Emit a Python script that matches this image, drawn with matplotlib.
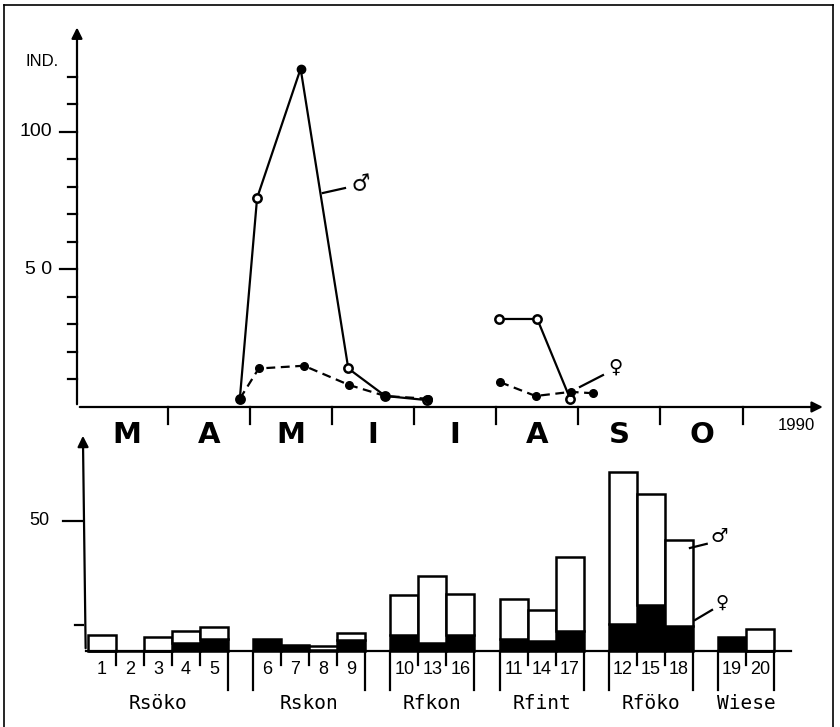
import numpy as np
import matplotlib
matplotlib.use('Agg')
import matplotlib.pyplot as plt
from matplotlib.lines import Line2D

# ------------------------------------------------------------
# Seasonal activity 1990 (upper panel), x = months after 1 March
# ------------------------------------------------------------
months = ['M', 'A', 'M', 'I', 'I', 'A', 'S', 'O']
year_label = '1990'

male_x = [1.88, 2.09, 2.62, 3.20, 3.65, 4.16, np.nan, 5.03, 5.50, 5.90]
male_n = [3, 76, 123, 14, 4, 2.5, np.nan, 32, 32, 3]
male_filled = [False, False, True, False, False, False, False, False, False, False]

female_x = [1.88, 2.11, 2.66, 3.21, 3.65, 4.17, np.nan, 5.05, 5.48, 5.91, 6.18]
female_n = [3, 14, 15, 8, 4, 3, np.nan, 9, 4, 5.5, 5]

# ------------------------------------------------------------
# Totals per site (lower panel)
# ------------------------------------------------------------
groups = ['Rsöko', 'Rskon', 'Rfkon', 'Rfint', 'Rföko', 'Wiese']
group_sites = [['1', '2', '3', '4', '5'],
               ['6', '7', '8', '9'],
               ['10', '13', '16'],
               ['11', '14', '17'],
               ['12', '15', '18'],
               ['19', '20']]
females = [0, 0, 0, 3.0, 4.6, 4.8, 2.5, 0.5, 4.2, 6.0,
           3.0, 6.0, 4.6, 3.8, 7.7, 10.4, 17.7, 9.6, 5.4, 0]
males = [6.2, 0, 5.5, 4.7, 4.6, 0, 0, 1.5, 2.8, 15.5,
         26.0, 16.0, 15.4, 12.0, 28.3, 58.4, 42.7, 33.1, 0, 8.5]

W, H = 840, 727
fig = plt.figure(figsize=(W / 100, H / 100), dpi=100)
fig.patch.set_facecolor('white')
plt.rcParams['font.family'] = ['Liberation Sans', 'DejaVu Sans']
LW = 1.6

# outer frame
for xs, ys in [([4, 4], [5, 727]), ([4, 833], [5, 5]), ([833, 833], [5, 727])]:
    fig.add_artist(Line2D([x / W for x in xs], [1 - y / H for y in ys],
                          color='k', lw=1.2, transform=fig.transFigure))

# ---------------- upper panel ----------------
ax1 = fig.add_axes([77 / W, 1 - 407 / H, (W - 77) / W, (407 - 20) / H])
ax1.set_xlim(-0.102, 9.185)
ax1.set_ylim(0, 140.7)
ax1.axis('off')
x0 = -0.102

ax1.annotate('', xy=(x0, 139), xytext=(x0, 0),
             arrowprops=dict(arrowstyle='-|>', lw=LW, color='k', mutation_scale=16),
             annotation_clip=False)
ax1.annotate('', xy=(9.01, 0), xytext=(x0, 0),
             arrowprops=dict(arrowstyle='-|>', lw=LW, color='k', mutation_scale=16),
             annotation_clip=False)

for v in range(10, 130, 10):
    dx = 0.21 if v in (50, 100) else 0.11
    ax1.plot([x0 - dx, x0], [v, v], color='k', lw=LW, clip_on=False)
ax1.text(-0.41, 100, '100', ha='right', va='center', fontsize=14)
ax1.text(-0.41, 50, '5 0', ha='right', va='center', fontsize=14)
ax1.text(-0.33, 125.5, 'IND.', ha='right', va='center', fontsize=12)

for k in range(1, len(months) + 1):
    ax1.plot([k, k], [0, -6.2], color='k', lw=LW, clip_on=False)
for k, m in enumerate(months):
    ax1.text(k + 0.5, -10.2, m, ha='center', va='center', fontsize=21,
             fontweight='bold', family='DejaVu Sans')
ax1.text(8.66, -6.8, year_label, ha='center', va='center', fontsize=12)

# males: solid line, open circles (peak filled)
ax1.plot(male_x, male_n, color='k', lw=LW, clip_on=False)
mx = np.array(male_x)
mn = np.array(male_n)
mf = np.array(male_filled)
ax1.plot(mx[~mf], mn[~mf], 'o', ms=6, mfc='white', mec='k', mew=1.8,
         ls='none', clip_on=False, zorder=3)
ax1.plot(mx[mf], mn[mf], 'o', ms=6, mfc='k', mec='k', ls='none',
         clip_on=False, zorder=3)

# females: dashed line, filled dots
ax1.plot(female_x, female_n, color='k', lw=LW, ls=(0, (4, 2.5)), clip_on=False)
ax1.plot(female_x, female_n, 'o', ms=5.5, color='k', ls='none',
         clip_on=False, zorder=3)

ax1.plot([2.89, 3.16], [77.8, 79.6], color='k', lw=LW)
ax1.text(3.22, 81, '♂', fontsize=16, ha='left', va='center',
         family='DejaVu Sans', rotation=10)
ax1.plot([6.02, 6.30], [7.3, 11.6], color='k', lw=LW)
ax1.text(6.36, 14.5, '♀', fontsize=14, ha='left', va='center',
         family='DejaVu Sans', fontweight='bold')

# ---------------- lower panel ----------------
ax2 = fig.add_axes([0, 0, 1, (H - 420) / H])
ax2.set_xlim(-3.64, 26.36)
ax2.set_ylim(-29.2, 88.8)
ax2.axis('off')

gap = 0.9
pos, starts, ends = [], [], []
p = 0.0
for sites in group_sites:
    starts.append(p)
    for _ in sites:
        pos.append(p)
        p += 1
    ends.append(p - 1)
    p += gap
pos = np.array(pos)
females = np.array(females)
males = np.array(males)

ax2.bar(pos, females, width=1.0, color='k', edgecolor='k', lw=1.8, zorder=2)
has_m = males > 0
ax2.bar(pos[has_m], males[has_m], bottom=females[has_m], width=1.0,
        color='white', edgecolor='k', lw=1.8, zorder=2)

ya = -0.68
ax2.annotate('', xy=(ya, 83.8), xytext=(ya + 0.1, 0),
             arrowprops=dict(arrowstyle='-|>', lw=LW, color='k', mutation_scale=16),
             annotation_clip=False)
ax2.plot([ya + 0.1, 24.6], [0, 0], color='k', lw=LW, zorder=3)
ax2.plot([ya - 0.71, ya], [50, 50], color='k', lw=LW)
ax2.plot([ya - 0.29, ya], [10, 10], color='k', lw=LW)
ax2.text(ya - 1.2, 50, '50', ha='right', va='center', fontsize=13)

labels = [s for sites in group_sites for s in sites]
for i, (x, lab) in enumerate(zip(pos, labels)):
    ax2.text(x, -7.2, lab, ha='center', va='center', fontsize=13)
for gi, (s, e) in enumerate(zip(starts, ends)):
    if gi > 0:
        ax2.plot([s - 0.5, s - 0.5], [0, -15], color='k', lw=LW)
    ax2.plot([e + 0.5, e + 0.5], [0, -15], color='k', lw=LW)
    for b in np.arange(s + 0.5, e, 1.0):
        ax2.plot([b, b], [0, -5.5], color='k', lw=LW)
    ax2.text((s + e) / 2, -20, groups[gi], ha='center', va='center',
             fontsize=14, family='DejaVu Sans Mono')

ax2.plot([21.0, 21.6], [39.6, 41.2], color='k', lw=LW)
ax2.text(21.75, 44, '♂', fontsize=14, ha='left', va='center',
         family='DejaVu Sans', fontweight='bold')
ax2.plot([21.18, 21.79], [11.9, 15.8], color='k', lw=LW)
ax2.text(21.9, 18.5, '♀', fontsize=13, ha='left', va='center',
         family='DejaVu Sans', fontweight='bold')

fig.savefig('out.png', dpi=100, facecolor='white')
